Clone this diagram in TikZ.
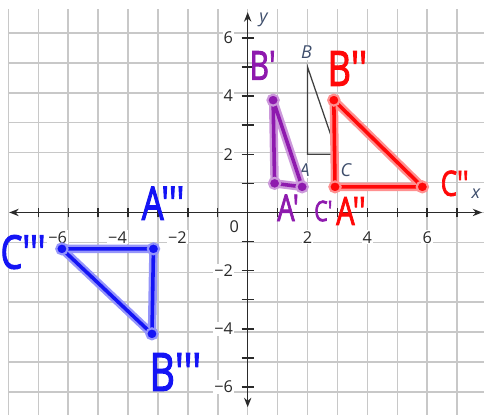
\documentclass[tikz,border=0pt]{standalone}
\usepackage{fontspec}
\newfontfamily\axisfont{Open Sans}
\newfontfamily\handfont{Open Sans}[FakeBold=2.5]
\usetikzlibrary{arrows.meta}
\definecolor{gridgray}{HTML}{C8C8C8}
\definecolor{axisgray}{HTML}{2A2A2A}
\definecolor{labelblue}{HTML}{3E4E6C}
\definecolor{penpurple}{HTML}{8E1AAE}
\definecolor{penred}{HTML}{FF0808}
\definecolor{penblue}{HTML}{1414F5}
\colorlet{halopurple}{penpurple!45}
\colorlet{halored}{penred!45}
\colorlet{haloblue}{penblue!45}
\newcommand\handtext[2]{\fontsize{#1}{#1}\selectfont\scalebox{0.75}[1]{#2}}
\tikzset{
  axis/.style={axisgray, line width=1.3pt},
  numlab/.style={fill=white, inner sep=1pt, text=axisgray},
  ptlab/.style={fill=white, inner sep=1pt, text=labelblue, font=\axisfont\fontsize{17}{20}\selectfont\itshape},
  haloline/.style={draw=#1, line width=8pt, line cap=round, line join=round},
  penline/.style={draw=#1, line width=3.4pt, line cap=round, line join=round},
  dot/.style 2 args={fill=#1, draw=#2, line width=2pt},
  hand/.style={text=#1, font=\handfont, inner sep=0pt}
}
\begin{document}
\begin{tikzpicture}[x=1cm, y=0.973cm, every node/.style={font=\axisfont\fontsize{15.5}{18}\selectfont}]
  \useasboundingbox (-8.28,-6.93) rectangle (7.9,7.30);
  % grid
  \begin{scope}
    \clip (-8.28,-6.93) rectangle (7.9,7.30);
    \draw[gridgray, line width=1.4pt] (-8,-7) grid (8,7);
  \end{scope}

  % axes
  \coordinate (xl) at (-7.97,0);
  \coordinate (xr) at (7.84,0);
  \coordinate (yt) at (0,6.88);
  \coordinate (yb) at (0,-6.69);
  \draw[axis, {Stealth[length=9pt, width=7pt]}-{Stealth[length=9pt, width=7pt]}] (xl) -- (xr);
  \draw[axis, {Stealth[length=9pt, width=7pt]}-{Stealth[length=9pt, width=7pt]}] (yb) -- (yt);
  \foreach \i in {-7,...,-1,1,2,...,7}
    \draw[axis] (\i,-0.17) -- (\i,0.17);
  \foreach \j in {-6,...,-1,1,2,...,6}
    \draw[axis] (-0.2,\j) -- (0.2,\j);
  \foreach \i in {-6,-4,-2}
    \node[numlab] (nx\i) at (\i-0.35,-0.85) {−\the\numexpr-\i\relax};
  \foreach \i in {2,4,6}
    \node[numlab] (nx\i) at (\i,-0.85) {\i};
  \foreach \j in {-6,-4,-2}
    \node[numlab, anchor=east] (ny\j) at (-0.45,\j) {−\the\numexpr-\j\relax};
  \foreach \j in {2,4,6}
    \node[numlab, anchor=east] (ny\j) at (-0.45,\j) {\j};
  \node[numlab] (n0) at (-0.45,-0.5) {0};
  \node[ptlab] (xlab) at (7.63,0.63) {x};
  \node[ptlab] (ylab) at (0.53,6.61) {y};

  % original triangle
  \coordinate (A) at (2,2);
  \coordinate (B) at (2,5);
  \coordinate (C) at (3,2);
  \draw[axisgray!90, line width=1.2pt] (A) -- (B) -- (C) -- cycle;
  \node[ptlab] (lA) at (1.9,1.44) {A};
  \node[ptlab] (lB) at (1.97,5.5) {B};
  \node[ptlab] (lC) at (3.28,1.45) {C};

  % image points
  \coordinate (Ap) at (0.9,1.0);
  \coordinate (Bp) at (0.85,3.86);
  \coordinate (Cp) at (1.82,0.88);
  \coordinate (App) at (2.92,0.88);
  \coordinate (Bpp) at (2.88,3.86);
  \coordinate (Cpp) at (5.84,0.88);
  \coordinate (Appp) at (-3.15,-1.25);
  \coordinate (Bppp) at (-3.2,-4.17);
  \coordinate (Cppp) at (-6.21,-1.25);

  % purple image
  \draw[haloline=halopurple] (Bp) -- (Ap) -- (Cp) -- cycle;
  \draw[penline=penpurple] (Bp) -- (Ap) -- (Cp) -- cycle;
  \foreach \v in {Ap,Bp,Cp} \fill[dot={penpurple}{halopurple}] (\v) circle (0.19);

  % red image
  \draw[haloline=halored] (Bpp) -- (App) -- (Cpp) -- cycle;
  \draw[penline=penred] (Bpp) -- (App) -- (Cpp) -- cycle;
  \foreach \v in {App,Bpp,Cpp} \fill[dot={penred}{halored}] (\v) circle (0.19);

  % blue image
  \draw[haloline=haloblue] (Cppp) -- (Appp) -- (Bppp) -- cycle;
  \draw[penline=penblue] (Cppp) -- (Appp) -- (Bppp) -- cycle;
  \foreach \v in {Appp,Bppp,Cppp} \fill[dot={penblue}{haloblue}] (\v) circle (0.19);

  % hand labels
  \node[hand=penpurple] (lBp) at (0.50,5.05) {\handtext{38}{B'}};
  \node[hand=penpurple] (lAp) at (1.35,0.16) {\handtext{35}{A'}};
  \node[hand=penpurple] (lCp) at (2.53,0.05) {\handtext{27}{C'}};
  \node[hand=penred] (lBpp) at (3.33,4.95) {\handtext{46}{B''}};
  \node[hand=penred] (lApp) at (3.45,0.05) {\handtext{37}{A''}};
  \node[hand=penred] (lCpp) at (6.92,1.0) {\handtext{33}{C''}};
  \node[hand=penblue] (lAppp) at (-2.83,0.32) {\handtext{44}{A'''}};
  \node[hand=penblue] (lBppp) at (-2.42,-5.48) {\handtext{50}{B'''}};
  \node[hand=penblue] (lCppp) at (-7.51,-1.36) {\handtext{44}{C'''}};
\end{tikzpicture}
\end{document}
